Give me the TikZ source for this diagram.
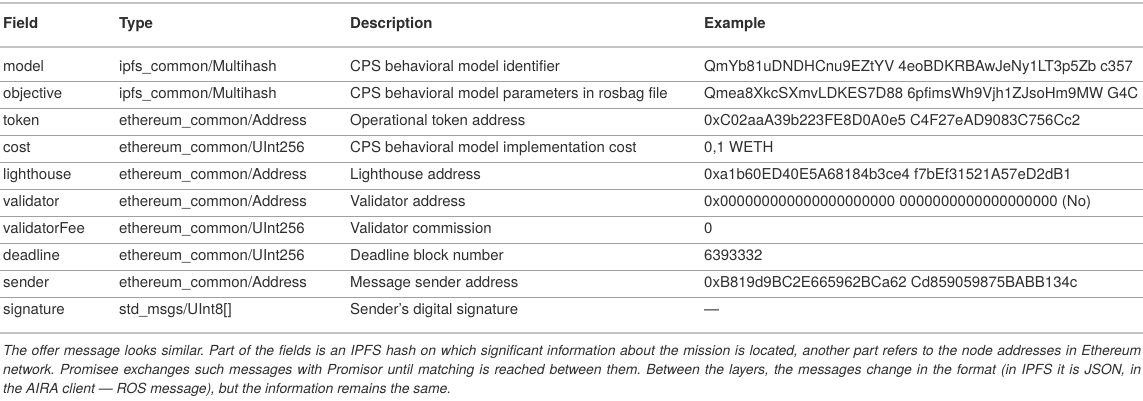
\documentclass[tikz,border=0pt]{standalone}
\usepackage{fontspec}
\setmainfont{TeX Gyre Heros}
\usepackage{tikz}

\definecolor{rulegray}{HTML}{C4C4C4}
\definecolor{linegray}{HTML}{A0A0A0}
\definecolor{txtgray}{HTML}{2E2E2E}

\begin{document}
\begin{tikzpicture}[x=1pt,y=-1pt,
  every node/.style={anchor=west,inner sep=0pt,text=txtgray,text height=10pt,text depth=3pt,
    font=\fontsize{15}{18}\selectfont},
  head/.style={font=\fontsize{15}{18}\selectfont\bfseries}]
  \useasboundingbox (0,0) rectangle (1143,401);

  % rules
  \draw[rulegray,line width=2pt] (0,3) -- (1143,3);
  \draw[rulegray,line width=2pt] (0,47) -- (1143,47);
  \draw[linegray,line width=1.1pt] (0,81.5) -- (1143,81.5);
  \draw[linegray,line width=1.1pt] (0,108.5) -- (1143,108.5);
  \draw[linegray,line width=1.1pt] (0,135.5) -- (1143,135.5);
  \draw[linegray,line width=1.1pt] (0,162.5) -- (1143,162.5);
  \draw[linegray,line width=1.1pt] (0,189.5) -- (1143,189.5);
  \draw[linegray,line width=1.1pt] (0,216.5) -- (1143,216.5);
  \draw[linegray,line width=1.1pt] (0,243.5) -- (1143,243.5);
  \draw[linegray,line width=1.1pt] (0,270.5) -- (1143,270.5);
  \draw[linegray,line width=1.1pt] (0,297.5) -- (1143,297.5);
  \draw[rulegray,line width=2pt] (0,333) -- (1143,333);

  % header
  \node[head] (hf) at (3,25) {Field};
  \node[head] (ht) at (119,25) {Type};
  \node[head] (hd) at (350,25) {Description};
  \node[head] (he) at (704,25) {Example};

  % rows
  \node (f1) at (3,68) {model};
  \node (t1) at (119,68) {ipfs\_common/Multihash};
  \node (d1) at (350,68) {CPS behavioral model identifier};
  \node (e1) at (704,68) {QmYb81uDNDHCnu9EZtYV 4eoBDKRBAwJeNy1LT3p5Zb c357};

  \node (f2) at (3,95) {objective};
  \node (t2) at (119,95) {ipfs\_common/Multihash};
  \node (d2) at (350,95) {CPS behavioral model parameters in rosbag file};
  \node (e2) at (704,95) {Qmea8XkcSXmvLDKES7D88 6pfimsWh9Vjh1ZJsoHm9MW G4C};

  \node (f3) at (3,122) {token};
  \node (t3) at (119,122) {ethereum\_common/Address};
  \node (d3) at (350,122) {Operational token address};
  \node (e3) at (704,122) {0xC02aaA39b223FE8D0A0e5 C4F27eAD9083C756Cc2};

  \node (f4) at (3,149) {cost};
  \node (t4) at (119,149) {ethereum\_common/UInt256};
  \node (d4) at (350,149) {CPS behavioral model implementation cost};
  \node (e4) at (704,149) {0,1 WETH};

  \node (f5) at (3,176) {lighthouse};
  \node (t5) at (119,176) {ethereum\_common/Address};
  \node (d5) at (350,176) {Lighthouse address};
  \node (e5) at (704,176) {0xa1b60ED40E5A68184b3ce4 f7bEf31521A57eD2dB1};

  \node (f6) at (3,203) {validator};
  \node (t6) at (119,203) {ethereum\_common/Address};
  \node (d6) at (350,203) {Validator address};
  \node (e6) at (704,203) {0x000000000000000000000 0000000000000000000 (No)};

  \node (f7) at (3,230) {validatorFee};
  \node (t7) at (119,230) {ethereum\_common/UInt256};
  \node (d7) at (350,230) {Validator commission};
  \node (e7) at (704,230) {0};

  \node (f8) at (3,257) {deadline};
  \node (t8) at (119,257) {ethereum\_common/UInt256};
  \node (d8) at (350,257) {Deadline block number};
  \node (e8) at (704,257) {6393332};

  \node (f9) at (3,284) {sender};
  \node (t9) at (119,284) {ethereum\_common/Address};
  \node (d9) at (350,284) {Message sender address};
  \node (e9) at (704,284) {0xB819d9BC2E665962BCa62 Cd859059875BABB134c};

  \node (f10) at (3,311) {signature};
  \node (t10) at (119,311) {std\_msgs/UInt8[]};
  \node (d10) at (350,311) {Sender’s digital signature};
  \node (e10) at (704,311) {—};

  % caption
  \node[anchor=base west,text height=,text depth=,text width=1138pt,align=justify,
    font=\fontsize{13.9}{19}\selectfont\itshape\frenchspacing] (cap) at (3,355)
    {The offer message looks similar. Part of the fields is an IPFS hash on which significant information about the mission is located, another part refers to the node addresses in Ethereum\linebreak
     network. Promisee exchanges such messages with Promisor until matching is reached between them. Between the layers, the messages change in the format (in IPFS it is JSON, in\linebreak
     the AIRA client — ROS message), but the information remains the same.};
\end{tikzpicture}
\end{document}
